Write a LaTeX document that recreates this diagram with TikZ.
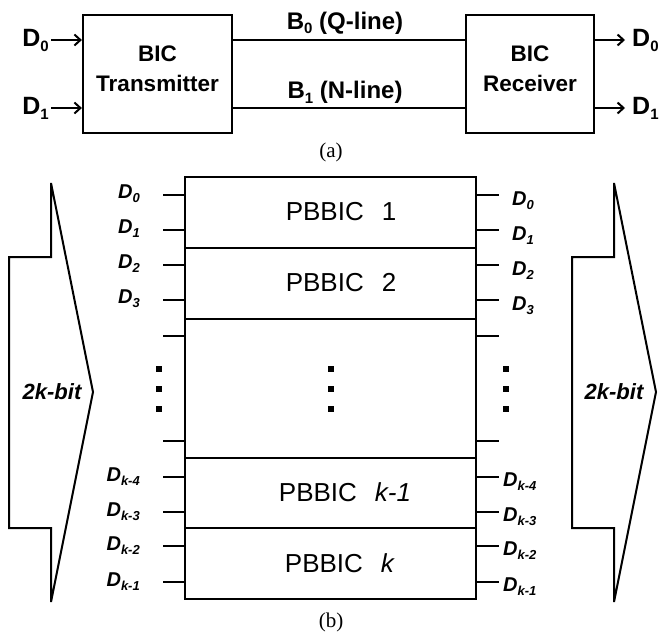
\documentclass[tikz,border=0pt]{standalone}
\usepackage{fontspec}
\setmainfont{Liberation Sans}
\newfontfamily\serifx{Liberation Serif}
\usetikzlibrary{arrows.meta}
\newcommand\Dsub[1]{D\raisebox{-4pt}{\fontsize{13}{13}\selectfont #1}}
\newcommand\Bsub[1]{\raisebox{-5pt}{\fontsize{15}{15}\selectfont #1}}
\begin{document}
\begin{tikzpicture}[x=1pt,y=-1pt,
 boxa/.style={draw, line width=2.2pt, minimum width=149pt, minimum height=118pt, inner sep=0pt},
 btxt/.style={font=\fontsize{22.5}{30}\selectfont\bfseries, align=center, inner sep=0pt},
 ltxt/.style={font=\fontsize{24}{30}\selectfont\bfseries, inner sep=0pt},
 wire/.style={line width=2pt},
 arr/.style={line width=2pt, -{Straight Barb[length=6pt,width=11pt,line width=2pt]}},
 cell/.style={draw, line width=2.4pt, minimum width=291pt, inner sep=0pt},
 ptxt/.style={font=\fontsize{26}{26}\selectfont, inner sep=0pt},
 stub/.style={line width=2.2pt},
 dl/.style={font=\fontsize{20}{20}\selectfont\bfseries\itshape, inner sep=0pt},
 bt/.style={font=\fontsize{22}{22}\selectfont\bfseries\itshape, inner sep=0pt},
 capt/.style={font=\serifx\fontsize{21}{21}\selectfont, inner sep=0pt},
 bigarr/.style={draw, line width=2pt, line join=miter},
 dotsq/.style={fill, minimum size=6pt, inner sep=0pt},
]
\useasboundingbox (0,0) rectangle (662,637);

% ---------- (a) ----------
\node[boxa] (tx) at (157.5,74) {};
\node[btxt] (txt) at (157.5,69) {BIC\\Transmitter};
\node[boxa, minimum width=128pt] (rx) at (530,74) {};
\node[btxt] (rxt) at (530,69) {BIC\\Receiver};

\coordinate (q) at (0,40);
\coordinate (n) at (0,108);
\draw[wire] (tx.east |- q) -- (rx.west |- q);
\draw[wire] (tx.east |- n) -- (rx.west |- n);
\node[ltxt, anchor=base] (bq) at (345,29) {B\Bsub{0} (Q-line)};
\node[ltxt, anchor=base] (bn) at (345,98) {B\Bsub{1} (N-line)};

\coordinate (i0) at (51,40);
\coordinate (i1) at (51,108);
\draw[arr] (i0) -- (tx.west |- i0);
\draw[arr] (i1) -- (tx.west |- i1);
\node[ltxt, font=\fontsize{25}{25}\selectfont\bfseries, anchor=base east] (li0) at (49,46) {D\Bsub{0}};
\node[ltxt, font=\fontsize{25}{25}\selectfont\bfseries, anchor=base east] (li1) at (49,114) {D\Bsub{1}};

\coordinate (o0) at (625,40);
\coordinate (o1) at (625,108);
\draw[arr] (rx.east |- o0) -- (o0);
\draw[arr] (rx.east |- o1) -- (o1);
\node[ltxt, font=\fontsize{25}{25}\selectfont\bfseries, anchor=base west] (lo0) at (632,46) {D\Bsub{0}};
\node[ltxt, font=\fontsize{25}{25}\selectfont\bfseries, anchor=base west] (lo1) at (632,114) {D\Bsub{1}};

\node[capt] (ca) at (331,152) {(a)};

% ---------- (b) ----------
\node[cell, minimum height=71pt] (c1) at (330.5,212.5) {};
\node[cell, minimum height=71pt] (c2) at (330.5,283.5) {};
\node[cell, minimum height=139pt] (cm) at (330.5,388.5) {};
\node[cell, minimum height=70pt] (c3) at (330.5,493) {};
\node[cell, minimum height=71pt] (c4) at (330.5,563.5) {};

\node[ptxt] (t1) at (341,212) {PBBIC\hspace{18pt}1};
\node[ptxt] (t2) at (341,283) {PBBIC\hspace{18pt}2};
\node[ptxt] (t3) at (345,492) {PBBIC\hspace{18pt}\textit{k-1}};
\node[ptxt] (t4) at (340,563) {PBBIC\hspace{18pt}\textit{k}};

% stubs
\foreach \y in {195,230,265,300,336,441,477,512,546,582}{
  \coordinate (L\y) at (163,\y);
  \coordinate (R\y) at (499,\y);
  \draw[stub] (L\y) -- (L\y -| c1.west);
  \draw[stub] (c1.east |- R\y) -- (R\y);
}

% labels
\foreach \y/\s in {195/0,230/1,265/2,300/3}{
  \node[dl, anchor=base east] (dl\s) at (140,\y+3) {\Dsub{\s}};
  \node[dl, anchor=base west] (dr\s) at (512,\y+10) {\Dsub{\s}};
}
\foreach \y/\s/\m in {477/k-4/a,512/k-3/b,546/k-2/c,582/k-1/d}{
  \node[dl, anchor=base east] (kl\m) at (140,\y+4) {\Dsub{\s}};
  \node[dl, anchor=base west] (kr\m) at (503,\y+9) {\Dsub{\s}};
}

% dots
\foreach \x/\c in {159/l,331/m,506/r}{
  \foreach \y/\k in {369/1,389/2,409/3}{
    \node[dotsq] (dot\c\k) at (\x,\y) {};
  }
}

% big arrows
\draw[bigarr] (9,257) -- (51,257) -- (51,183) -- (93,392) -- (51,602) -- (51,528) -- (9,528) -- cycle;
\draw[bigarr] (572,257) -- (614,257) -- (614,183) -- (656,392) -- (614,602) -- (614,528) -- (572,528) -- cycle;
\node[bt] (bl) at (52,392) {2k-bit};
\node[bt] (br) at (614,392) {2k-bit};

\node[capt] (cb) at (331,622) {(b)};
\end{tikzpicture}
\end{document}
